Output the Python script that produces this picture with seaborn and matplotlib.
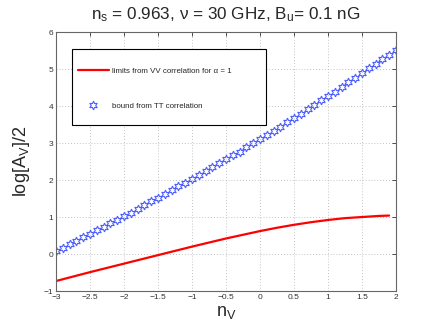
import numpy as np
import pandas as pd
import seaborn as sns
import matplotlib
matplotlib.use("Agg")
import matplotlib.pyplot as plt
from matplotlib.patches import Rectangle

# ---- data ----
tt_nv = [round(-3.0 + 0.1 * i, 1) for i in range(51)]
tt_bound = [0.07, 0.17, 0.26, 0.36, 0.45, 0.55, 0.64, 0.74, 0.83, 0.93,
            1.02, 1.12, 1.22, 1.32, 1.42, 1.52, 1.62, 1.72, 1.83, 1.93,
            2.03, 2.14, 2.24, 2.35, 2.45, 2.56, 2.67, 2.77, 2.88, 2.99,
            3.10, 3.21, 3.33, 3.44, 3.56, 3.67, 3.79, 3.91, 4.03, 4.15,
            4.27, 4.39, 4.52, 4.64, 4.77, 4.89, 5.02, 5.14, 5.27, 5.39, 5.52]
vv_nv = [-3.0, -2.5, -2.0, -1.5, -1.0, -0.75, -0.5, -0.25, 0.0, 0.25,
         0.5, 0.75, 1.0, 1.25, 1.5, 1.75, 1.9]
vv_limit = [-0.73, -0.49, -0.26, -0.03, 0.20, 0.31, 0.42, 0.52, 0.62, 0.71,
            0.79, 0.86, 0.92, 0.97, 1.00, 1.03, 1.04]
xticks = [-3, -2.5, -2, -1.5, -1, -0.5, 0, 0.5, 1, 1.5, 2]
xticklabels = ["\u22123", "\u22122.5", "\u22122", "\u22121.5", "\u22121", "\u22120.5",
               "0", "0.5", "1", "1.5", "2"]
yticks = [-1, 0, 1, 2, 3, 4, 5, 6]
yticklabels = ["\u22121", "0", "1", "2", "3", "4", "5", "6"]
label_vv = "limits from VV correlation for \u03b1 = 1"
label_tt = "bound from TT correlation"
title = "n$_s$ = 0.963, \u03bd = 30 GHz, B$_u$= 0.1 nG"

sns.set_style("white")
plt.rcParams["font.family"] = ["Liberation Sans", "DejaVu Sans"]
plt.rcParams["mathtext.default"] = "regular"

fig = plt.figure(figsize=(4.37, 3.27), dpi=100)
ax = fig.add_axes([0.128, 0.110, 0.778, 0.792])

df_vv = pd.DataFrame({"nv": vv_nv, "A": vv_limit})
df_tt = pd.DataFrame({"nv": tt_nv, "A": tt_bound})

sns.lineplot(data=df_vv, x="nv", y="A", ax=ax, color="#ff0000", linewidth=1.6,
             label=label_vv, sort=False)
sns.lineplot(data=df_tt, x="nv", y="A", ax=ax, linestyle="", marker=(6, 1, 0),
             markersize=6.3, markerfacecolor="none", markeredgecolor="#4d5eff",
             markeredgewidth=0.8, color="#4d5eff", label=label_tt, sort=False)

ax.set_xlim(-3, 2)
ax.set_ylim(-1, 6)
ax.set_xticks(xticks)
ax.set_xticklabels(xticklabels)
ax.set_yticks(yticks)
ax.set_yticklabels(yticklabels)
ax.tick_params(direction="in", length=3, width=0.6, labelsize=6, colors="#333333",
               top=True, right=True, pad=2)
ax.grid(True, linestyle=(0, (1, 2.5)), color="#b0b0b0", linewidth=0.6)
for s in ax.spines.values():
    s.set_color("#666666")
    s.set_linewidth(0.8)

ax.set_title(title, fontsize=12.3, pad=9)
ax.set_xlabel("n$_V$", fontsize=13, labelpad=2)
ax.set_ylabel("log[A$_V$]/2", fontsize=13, labelpad=8)

# legend box
box = Rectangle((0.047, 0.641), 0.57, 0.293, transform=ax.transAxes,
                facecolor="white", edgecolor="black", linewidth=0.8, zorder=4)
ax.add_patch(box)
leg = ax.legend(loc="upper left", bbox_to_anchor=(0.064, 0.864),
                fontsize=5.7, frameon=False, labelspacing=3.5,
                handlelength=3.9, handletextpad=0.4,
                borderpad=0, borderaxespad=0)
leg.set_zorder(5)

fig.savefig("out.png", dpi=100)
